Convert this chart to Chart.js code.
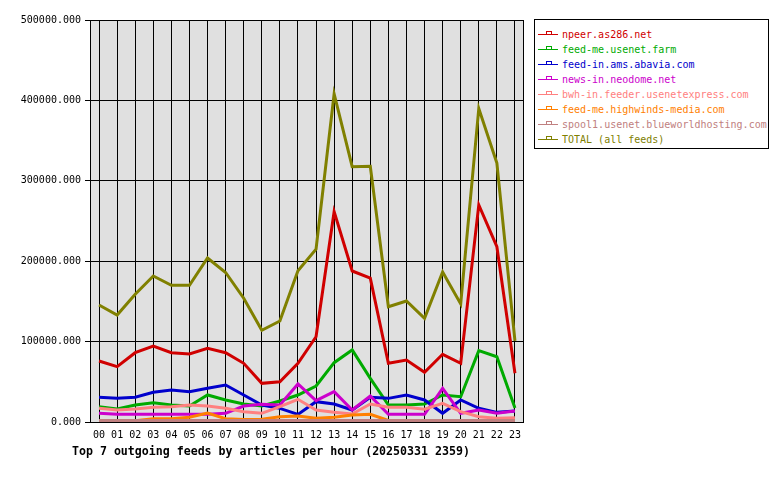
<!DOCTYPE html>
<html>
<head>
<meta charset="utf-8">
<script src="https://cdn.jsdelivr.net/npm/chart.js@4"></script>
<style>
  html, body { margin: 0; padding: 0; background: #fff; }
  #wrap { position: relative; width: 780px; height: 480px; }
  #legend {
    position: absolute; left: 534px; top: 19px; width: 235px; height: 130px;
    border: 1px solid #000; background: #fff; box-sizing: border-box;
    font: 10px "DejaVu Sans Mono", monospace; padding-top: 7px;
  }
  .item { height: 15px; line-height: 15px; position: relative; white-space: nowrap; }
  .sym { position: absolute; left: 3px; top: 7px; width: 20px; height: 0; border-top: 1px solid; }
  .sym i { position: absolute; left: 8px; top: -4px; width: 4px; height: 2px; border: 1px solid; border-bottom: none; }
  .lbl { position: absolute; left: 27px; }
</style>
</head>
<body>
<div id="wrap">
  <canvas id="feedChart" width="780" height="480"></canvas>
  <div id="legend"></div>
</div>
<script>
const hours = ["00","01","02","03","04","05","06","07","08","09","10","11",
               "12","13","14","15","16","17","18","19","20","21","22","23"];

const feedNames = [
  "npeer.as286.net",
  "feed-me.usenet.farm",
  "feed-in.ams.abavia.com",
  "news-in.neodome.net",
  "bwh-in.feeder.usenetexpress.com",
  "feed-me.highwinds-media.com",
  "spool1.usenet.blueworldhosting.com",
  "TOTAL (all feeds)"
];
const feedColors = ["#d00000", "#00aa00", "#0000cc", "#cc00cc", "#ff8080", "#ff8000", "#c08080", "#808000"];

// articles per hour
const npeer    = [75900, 68800, 86200, 94500, 86200, 84600, 91600, 86200, 73000, 48100, 50100, 73000,
                  106000, 261600, 187800, 179000, 73000, 77100, 61800, 84200, 73000, 270000, 218000, 60600];
const usenetFarm = [19000, 16200, 21100, 24000, 21100, 19900, 33600, 27400, 22400, 19900, 26100, 33600,
                  44800, 73800, 89600, 54300, 21100, 21100, 22400, 33600, 31500, 88700, 81200, 17400];
const abavia   = [30700, 29400, 30700, 36900, 39800, 37700, 41900, 46000, 33600, 21100, 17000, 9500,
                  25300, 22400, 14900, 30700, 29400, 33600, 27400, 10800, 27400, 17000, 12000, 13700];
const neodome  = [10800, 9500, 9500, 9500, 9500, 9500, 9500, 10800, 19900, 22000, 21100, 47300,
                  26500, 37700, 14900, 32300, 9500, 9500, 9500, 41900, 10800, 14900, 10800, 13700];
const usenetExpress = [17000, 14900, 16200, 18300, 19000, 21100, 19900, 17000, 12800, 10800, 19000, 28200,
                  14900, 12000, 10000, 22400, 18300, 18300, 15800, 23300, 12800, 6600, 4600, 5300];
const highwinds = [1500, 1500, 1500, 4000, 4000, 6000, 11000, 4000, 3000, 3300, 6600, 7500,
                  4600, 5800, 8700, 9500, 2000, 1500, 1500, 1500, 1500, 1500, 1500, 1500];
const blueworld = [2000, 2000, 2000, 2000, 2000, 2000, 2000, 2000, 2000, 2000, 2000, 2000,
                  2000, 2000, 2000, 2000, 2000, 2000, 2000, 2000, 2000, 2000, 2000, 2000];
const total    = [145500, 133000, 159000, 181600, 170000, 170000, 204000, 186000, 154000, 114000, 125600, 188000,
                  215000, 408000, 317500, 318000, 143400, 150500, 129000, 186500, 146800, 390000, 322000, 101000];

const yTicks = [0, 100000, 200000, 300000, 400000, 500000];
const caption = "Top 7 outgoing feeds by articles per hour (20250331 2359)";

const seriesValues = [npeer, usenetFarm, abavia, neodome, usenetExpress, highwinds, blueworld, total];

const monoFont = { family: "'DejaVu Sans Mono', monospace", size: 10 };

// grey plot background + black frame + caption
const plotFrame = {
  id: "plotFrame",
  beforeDraw(chart) {
    const { ctx, chartArea: a } = chart;
    ctx.save();
    ctx.fillStyle = "#e0e0e0";
    ctx.fillRect(a.left, a.top, a.right - a.left, a.bottom - a.top);
    ctx.restore();
  },
  afterDraw(chart) {
    const { ctx, chartArea: a } = chart;
    ctx.save();
    ctx.strokeStyle = "#000";
    ctx.lineWidth = 1;
    ctx.strokeRect(Math.round(a.left) + 0.5, Math.round(a.top) + 0.5,
                   Math.round(a.right - a.left) - 1, Math.round(a.bottom - a.top));
    ctx.fillStyle = "#000";
    ctx.font = "bold 11.6px 'DejaVu Sans Mono', monospace";
    ctx.textBaseline = "middle";
    ctx.fillText(caption, 72, 452);
    ctx.restore();
  }
};

const datasets = seriesValues.map((vals, i) => ({
  label: feedNames[i],
  data: vals,
  borderColor: feedColors[i],
  backgroundColor: feedColors[i],
  borderWidth: 3,
  pointRadius: 0,
  tension: 0,
  fill: false,
  order: 8 - i // later feeds drawn on top
}));

const chart = new Chart(document.getElementById("feedChart"), {
  type: "line",
  data: { labels: hours, datasets: datasets },
  options: {
    responsive: false,
    animation: false,
    layout: { padding: { left: 0, top: 20, right: 256, bottom: 36 } },
    plugins: {
      legend: { display: false },
      tooltip: { enabled: false }
    },
    scales: {
      x: {
        offset: true,
        grid: { color: "#000", offset: false, drawTicks: false, lineWidth: 1 },
        border: { display: false },
        ticks: { color: "#000", font: monoFont, padding: 7, maxRotation: 0, autoSkip: false },
        afterFit: s => { s.height = 22; }
      },
      y: {
        min: 0,
        max: 500000,
        afterBuildTicks: s => { s.ticks = yTicks.map(v => ({ value: v })); },
        grid: { color: "#000", tickLength: 5, lineWidth: 1 },
        border: { color: "#000" },
        ticks: { color: "#000", font: monoFont, padding: 4, callback: v => v.toFixed(3) },
        afterFit: s => { s.width = 90; }
      }
    }
  },
  plugins: [plotFrame]
});

// legend built from the chart datasets
const legendBox = document.getElementById("legend");
chart.data.datasets.forEach(ds => {
  const row = document.createElement("div");
  row.className = "item";
  row.innerHTML = `<span class="sym" style="border-color:${ds.borderColor}"><i style="border-color:${ds.borderColor}"></i></span>` +
                  `<span class="lbl" style="color:${ds.borderColor}">${ds.label}</span>`;
  legendBox.appendChild(row);
});
</script>
</body>
</html>
